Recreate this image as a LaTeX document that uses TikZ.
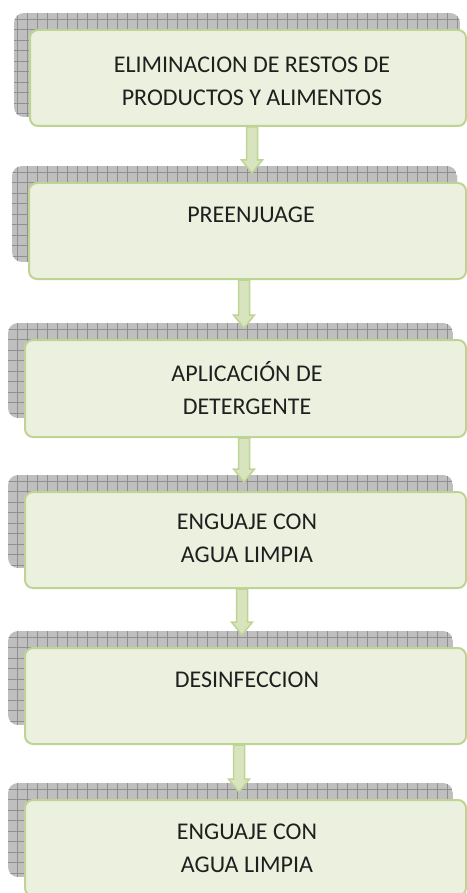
\documentclass[tikz,border=0pt]{standalone}
\usepackage{fontspec}
\setmainfont{Carlito}
\usetikzlibrary{calc}
\pgfdeclarelayer{background}
\pgfsetlayers{background,main}

\definecolor{boxfill}{HTML}{EBF1DE}
\definecolor{boxline}{HTML}{BFD494}
\definecolor{arrowfill}{HTML}{D7E4BD}
\definecolor{shadowfill}{HTML}{BFBFBF}
\definecolor{shadowgrid}{HTML}{8F8F8F}

\tikzset{
  paso/.style={draw=boxline, fill=boxfill, line width=2pt, rounded corners=8pt,
    inner sep=0pt, anchor=north west, minimum width=438pt},
  rotulo/.style={align=center, font=\fontsize{24}{33}\selectfont, text=black!88, inner sep=0pt},
  flecha/.style={draw=boxline, fill=arrowfill, line width=1.5pt, line join=miter,
    to path={let \p1=(\tikztostart), \p2=(\tikztotarget) in
      (\x1-5.5pt,\y1) -- (\x1-5.5pt,\y2+13pt) -- (\x1-10.5pt,\y2+13pt) -- (\x2,\y2)
      -- (\x1+10.5pt,\y2+13pt) -- (\x1+5.5pt,\y2+13pt) -- (\x1+5.5pt,\y1) -- cycle}}
}

\begin{document}
\begin{tikzpicture}[x=1pt,y=-1pt]
  \useasboundingbox (0,0) rectangle (466,893);
  % die Schatten mit Gitter
  \begin{pgfonlayer}{background}
   \foreach \xa/\ya/\xb/\yb in {14/13/460/117, 12/166/457/262, 8/323/453/418,
                                8/475/453/568, 8/631/453/725, 8/783/453/877}
   {
    \begin{scope}
     \clip[rounded corners=10pt] (\xa,\ya) rectangle (\xb,\yb);
     \fill[shadowfill] (\xa,\ya) rectangle (\xb,\yb);
     \foreach \gx in {7,17,...,457}
      \draw[shadowgrid, line width=0.65pt] (\gx,\ya) -- (\gx,\yb);
     \foreach \gy in {0,10.5,...,105}
      \draw[shadowgrid, line width=0.65pt] (\xa,\ya+\gy+6) -- (\xb,\ya+\gy+6);
    \end{scope}
   }
  \end{pgfonlayer}
  % die Kaesten
  \node[paso, minimum width=436pt, minimum height=96pt] (b1) at (29,29) {};
  \node[paso, minimum width=437pt, minimum height=96pt] (b2) at (28,182) {};
  \node[paso, minimum width=441pt, minimum height=97pt] (b3) at (24,339) {};
  \node[paso, minimum width=441pt, minimum height=96pt] (b4) at (24,491) {};
  \node[paso, minimum width=441pt, minimum height=96pt] (b5) at (24,647) {};
  \node[paso, minimum width=441pt, minimum height=96pt] (b6) at (24,799) {};
  % die Texte
  \node[rotulo] (l1) at (252,81) {ELIMINACION DE RESTOS DE\\PRODUCTOS Y ALIMENTOS};
  \node[rotulo] (l2) at (251,215) {PREENJUAGE};
  \node[rotulo] (l3) at (247,388) {APLICACIÓN DE\\DETERGENTE};
  \node[rotulo] (l4) at (247,538) {ENGUAJE CON\\AGUA LIMPIA};
  \node[rotulo] (l5) at (247,680) {DESINFECCION};
  \node[rotulo] (l6) at (247,848) {ENGUAJE CON\\AGUA LIMPIA};
  % die Pfeile
  \coordinate (t1) at (252,173);
  \coordinate (t2) at (244,328);
  \coordinate (t3) at (244,482);
  \coordinate (t4) at (242,635);
  \coordinate (t5) at (239,792);
  \begin{pgfonlayer}{background}
   \foreach \i in {1,...,5}
    \draw[flecha] (b\i.south -| t\i) to (t\i);
  \end{pgfonlayer}
\end{tikzpicture}
\end{document}
